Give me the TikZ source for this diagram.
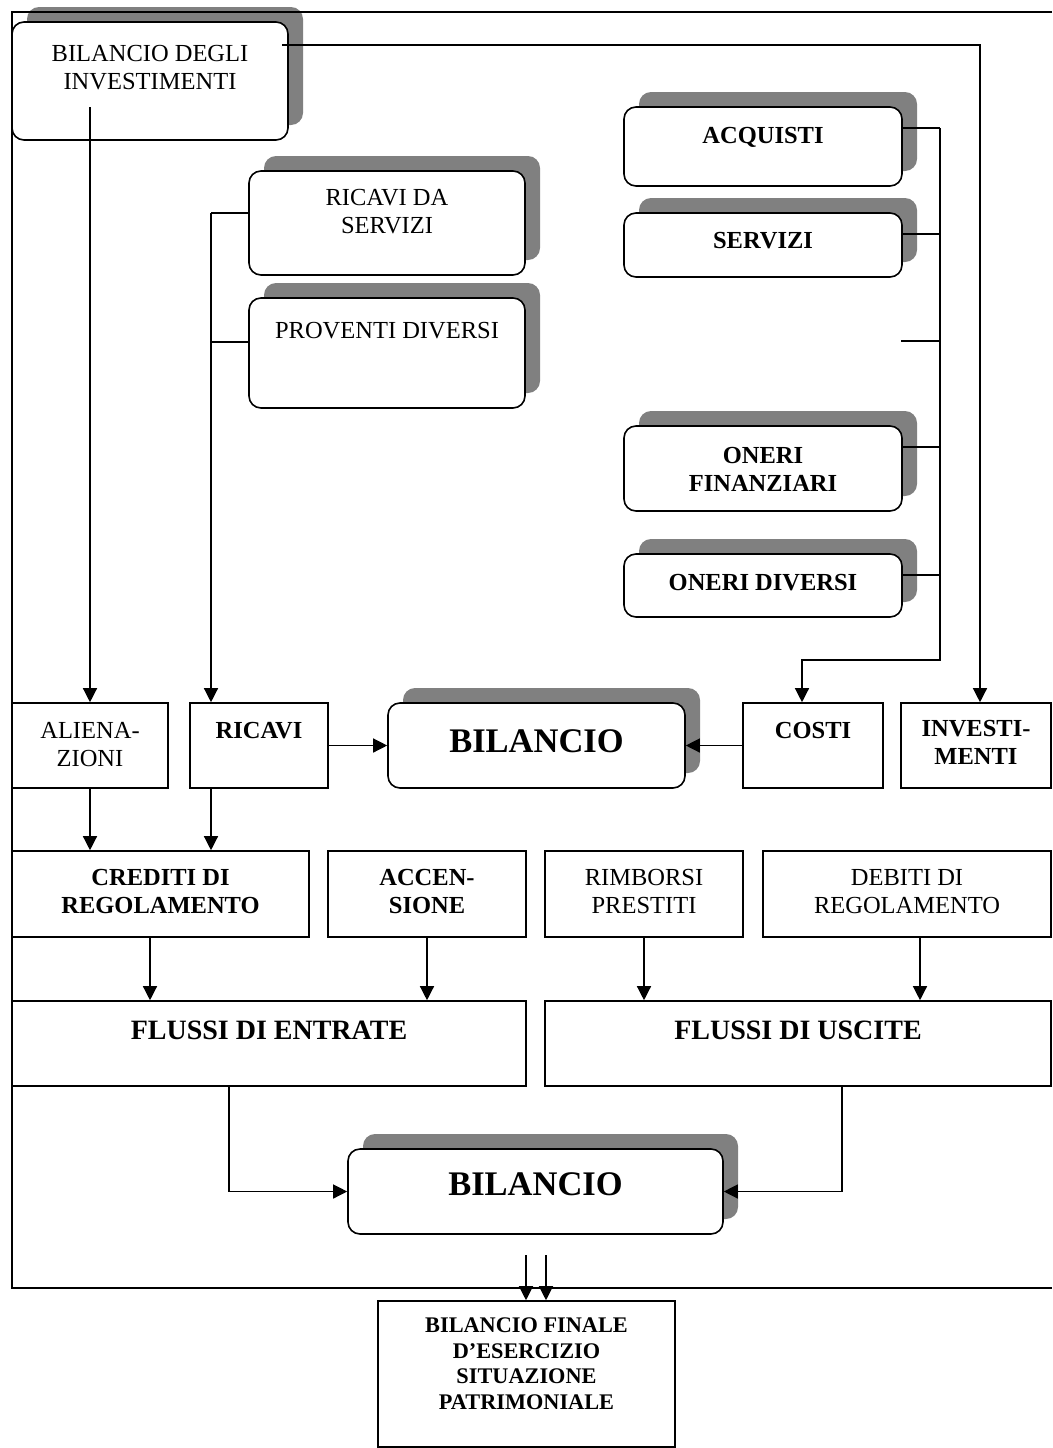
\documentclass[tikz,border=0pt]{standalone}
\usepackage{fontspec}
\setmainfont{Liberation Serif}
\usetikzlibrary{shadows,arrows.meta}
\definecolor{shgray}{HTML}{808080}
\newcommand\fnorm{\fontsize{24.5}{28}\selectfont}
\newcommand\fbig{\fontsize{28}{32}\selectfont}
\newcommand\fhuge{\fontsize{34.5}{38}\selectfont}
\newcommand\fsmall{\fontsize{22.3}{25.7}\selectfont}
\tikzset{
  sqbox/.style={draw, line width=1.6pt, fill=white, inner sep=0pt},
  rbox/.style={draw, line width=1.6pt, fill=white, inner sep=0pt, rounded corners=12pt,
    general shadow={fill=shgray, shadow xshift=15pt, shadow yshift=15pt}},
  txt/.style={anchor=north, inner sep=0pt, align=center, font=\fnorm},
  conn/.style={line width=1.3pt},
  arr/.style={line width=1.3pt, -{Triangle[length=14pt,width=14pt]}},
}
\begin{document}
\begin{tikzpicture}[x=1pt,y=-1pt]
\useasboundingbox (0,0) rectangle (1052,1448);
% shadowed boxes
\node[rbox, minimum width=276pt, minimum height=118pt] (inv) at (150,81) {};
\node[rbox, minimum width=276pt, minimum height=104pt] (ricserv) at (387,223) {};
\node[rbox, minimum width=276pt, minimum height=110pt] (prov) at (387,353) {};
\node[rbox, minimum width=278pt, minimum height=79pt] (acq) at (763,146.5) {};
\node[rbox, minimum width=278pt, minimum height=64pt] (serv) at (763,245) {};
\node[rbox, minimum width=278pt, minimum height=85pt] (onfin) at (763,468.5) {};
\node[rbox, minimum width=278pt, minimum height=63pt] (ondiv) at (763,585.5) {};
\node[rbox, minimum width=297pt, minimum height=85pt] (bil1) at (536.5,745.5) {};
\node[rbox, minimum width=375pt, minimum height=85pt] (bil2) at (535.5,1191.5) {};
% frame
\draw[line width=1.6pt] (1052,12) -- (12,12) -- (12,1288) -- (1052,1288);
% square boxes
\node[sqbox, minimum width=156pt, minimum height=85pt] (alien) at (90,745.5) {};
\node[sqbox, minimum width=138pt, minimum height=85pt] (ricavi) at (259,745.5) {};
\node[sqbox, minimum width=140pt, minimum height=85pt] (costi) at (813,745.5) {};
\node[sqbox, minimum width=150pt, minimum height=85pt] (investi) at (976,745.5) {};
\node[sqbox, minimum width=297pt, minimum height=86pt] (cred) at (160.5,894) {};
\node[sqbox, minimum width=198pt, minimum height=86pt] (acc) at (427,894) {};
\node[sqbox, minimum width=198pt, minimum height=86pt] (rimb) at (644,894) {};
\node[sqbox, minimum width=288pt, minimum height=86pt] (deb) at (907,894) {};
\node[sqbox, minimum width=514pt, minimum height=85pt] (fent) at (269,1043.5) {};
\node[sqbox, minimum width=506pt, minimum height=85pt] (fusc) at (798,1043.5) {};
\node[sqbox, minimum width=297pt, minimum height=146pt] (final) at (526.5,1374) {};
% texts
\node[txt] (inv-t) at (150,45) {BILANCIO DEGLI\\INVESTIMENTI};
\node[txt] (ricserv-t) at (387,189) {RICAVI DA\\SERVIZI};
\node[txt] (prov-t) at (387,322) {PROVENTI DIVERSI};
\node[txt, font=\fnorm\bfseries] (acq-t) at (763,127) {ACQUISTI};
\node[txt, font=\fnorm\bfseries] (serv-t) at (763,232) {SERVIZI};
\node[txt, font=\fnorm\bfseries] (onfin-t) at (763,447) {ONERI\\FINANZIARI};
\node[txt, font=\fnorm\bfseries] (ondiv-t) at (763,574) {ONERI DIVERSI};
\node[txt] (alien-t) at (90,722) {ALIENA-\\ZIONI};
\node[txt, font=\fnorm\bfseries] (ricavi-t) at (259,722) {RICAVI};
\node[txt, font=\fhuge\bfseries] (bil1-t) at (536.5,729.5) {BILANCIO};
\node[txt, font=\fnorm\bfseries] (costi-t) at (813,722) {COSTI};
\node[txt, font=\fnorm\bfseries] (investi-t) at (976,720) {INVESTI-\\MENTI};
\node[txt, font=\fnorm\bfseries] (cred-t) at (160.5,869) {CREDITI DI\\REGOLAMENTO};
\node[txt, font=\fnorm\bfseries] (acc-t) at (427,869) {ACCEN-\\SIONE};
\node[txt] (rimb-t) at (644,869) {RIMBORSI\\PRESTITI};
\node[txt] (deb-t) at (907,869) {DEBITI DI\\REGOLAMENTO};
\node[txt, font=\fbig\bfseries] (fent-t) at (269,1021) {FLUSSI DI ENTRATE};
\node[txt, font=\fbig\bfseries] (fusc-t) at (798,1021) {FLUSSI DI USCITE};
\node[txt, font=\fhuge\bfseries] (bil2-t) at (535.5,1172.5) {BILANCIO};
\node[txt, font=\fsmall\bfseries] (final-t) at (526.5,1317.5) {BILANCIO FINALE\\D’ESERCIZIO\\SITUAZIONE\\PATRIMONIALE};
% connectors
\coordinate (invout) at (90,107);
\coordinate (invstart) at (282,45);
\coordinate (invcorner) at (980,45);
\draw[arr] (invstart) -- (invcorner) -- (investi.north -| invcorner);
\draw[arr] (invout) -- (alien.north -| invout);
% ricavi feed
\coordinate (rbus) at (211,213);
\draw[conn] (ricserv.west |- rbus) -- (rbus);
\draw[conn] (prov.west |- 0,342) -- (211,342);
\draw[arr] (rbus) -- (ricavi.north -| rbus);
% costs bus
\coordinate (cbus) at (940,128);
\coordinate (cbend) at (940,660);
\coordinate (stub) at (901,341);
\draw[conn] (acq.east |- cbus) -- (cbus);
\draw[conn] (serv.east |- 0,234) -- (940,234);
\draw[conn] (stub) -- (stub -| cbus);
\draw[conn] (onfin.east |- 0,447) -- (940,447);
\draw[conn] (ondiv.east |- 0,575) -- (940,575);
\draw[arr] (cbus) -- (cbend) -- (802,660) -- (costi.north -| 802,0);
% middle row
\draw[arr] (ricavi.east) -- (bil1.west);
\draw[arr] (costi.west) -- (bil1.east);
\draw[arr] (alien.south) -- (cred.north -| alien.south);
\draw[arr] (ricavi.south -| rbus) -- (cred.north -| rbus);
% to flows
\draw[arr] (cred.south -| 150,0) -- (fent.north -| 150,0);
\draw[arr] (acc.south) -- (fent.north -| acc.south);
\draw[arr] (rimb.south) -- (fusc.north -| rimb.south);
\draw[arr] (deb.south -| 920,0) -- (fusc.north -| 920,0);
% to final balance
\draw[arr] (fent.south -| 229,0) -- (229,1191.5) -- (bil2.west);
\draw[arr] (fusc.south -| 842,0) -- (842,1191.5) -- (bil2.east);
\coordinate (d1) at (526,1255);
\coordinate (d2) at (546,1255);
\draw[arr] (d1) -- (final.north -| d1);
\draw[arr] (d2) -- (final.north -| d2);
\end{tikzpicture}
\end{document}
